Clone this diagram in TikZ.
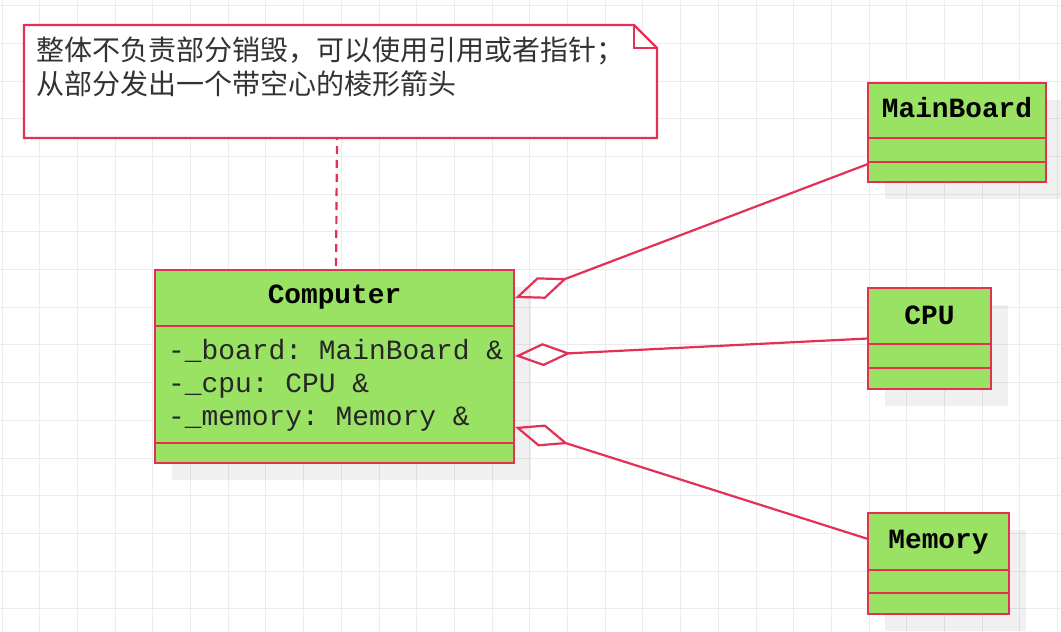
\documentclass[tikz,border=0pt]{standalone}
\usepackage{fontspec}
\setmonofont{Liberation Mono}
\newfontfamily\cjkfont{Noto Sans CJK SC}
\usetikzlibrary{arrows.meta,calc,shadows}

\definecolor{umlred}{RGB}{228,48,84}
\definecolor{umlgreen}{RGB}{154,226,100}
\definecolor{gridgray}{RGB}{236,236,236}

\tikzset{
  gridline/.style={draw=gridgray,line width=1pt},
  classbox/.style={draw=umlred,fill=umlgreen,line width=2.2pt,outer sep=0pt,inner sep=0pt,anchor=north west,
    drop shadow={shadow xshift=17pt,shadow yshift=-17pt,fill=black,opacity=0.06}},
  divider/.style={draw=umlred,line width=2.2pt},
  classname/.style={font=\ttfamily\bfseries\fontsize{27.8}{33}\selectfont,inner sep=0pt,anchor=base},
  attrtext/.style={font=\ttfamily\fontsize{27.9}{33}\selectfont,text=black!85,align=left,inner sep=0pt,anchor=north west},
  notebox/.style={minimum width=633pt,minimum height=113pt,outer sep=0pt,inner sep=0pt,anchor=north west},
  noteline/.style={draw=umlred,fill=white,line width=2.2pt,line join=miter},
  notetext/.style={font=\cjkfont\fontsize{28}{34}\selectfont,text=black!80,align=left,inner sep=0pt,anchor=north west},
  notelink/.style={draw=umlred,line width=2.2pt,dash pattern=on 8pt off 6pt,dash phase=6pt},
  aggregation/.style={draw=umlred,line width=2.2pt,-{Diamond[open,length=56pt,width=23pt]}}
}

\begin{document}
\begin{tikzpicture}[x=1pt,y=-1pt]
  \useasboundingbox[fill=white] (0,0) rectangle (1061,632);
  \foreach \gx in {0,...,28} \draw[gridline] ({2+37.7*\gx},0) -- ({2+37.7*\gx},632);
  \foreach \gy in {0,...,16} \draw[gridline] (0,{5.6+37.7*\gy}) -- (1061,{5.6+37.7*\gy});

  \node[notebox] (note) at (24,25) {};
  \draw[noteline] (note.north west) -- ($(note.north east)+(-23,0)$) -- ($(note.north east)+(0,23)$)
    -- (note.south east) -- (note.south west) -- cycle;
  \draw[noteline,fill=none] ($(note.north east)+(-23,0)$) |- ($(note.north east)+(0,23)$);
  \node[notetext] (notetxt) at (36,37) {整体不负责部分销毁，可以使用引用或者指针；\\从部分发出一个带空心的棱形箭头};

  \node[classbox,minimum width=359pt,minimum height=193pt] (computer) at (155,270) {};
  \draw[divider] ($(computer.north west)+(0,56)$) -- ($(computer.north east)+(0,56)$);
  \draw[divider] ($(computer.north west)+(0,173)$) -- ($(computer.north east)+(0,173)$);
  \node[classname] (computername) at ($(computer.north)+(0,33)$) {Computer};
  \node[attrtext] (computerattr) at ($(computer.north west)+(13,69)$) {-\_board: MainBoard \&\\-\_cpu: CPU \&\\-\_memory: Memory \&};

  \node[classbox,minimum width=178pt,minimum height=99pt] (mainboard) at (868,83) {};
  \draw[divider] ($(mainboard.north west)+(0,55)$) -- ($(mainboard.north east)+(0,55)$);
  \draw[divider] ($(mainboard.north west)+(0,79)$) -- ($(mainboard.north east)+(0,79)$);
  \node[classname] (mainboardname) at ($(mainboard.north)+(0,34)$) {MainBoard};

  \node[classbox,minimum width=123pt,minimum height=101pt] (cpu) at (868,288) {};
  \draw[divider] ($(cpu.north west)+(0,56)$) -- ($(cpu.north east)+(0,56)$);
  \draw[divider] ($(cpu.north west)+(0,80)$) -- ($(cpu.north east)+(0,80)$);
  \node[classname] (cpuname) at ($(cpu.north)+(0,36)$) {CPU};

  \node[classbox,minimum width=141pt,minimum height=101pt] (memory) at (868,513) {};
  \draw[divider] ($(memory.north west)+(0,57)$) -- ($(memory.north east)+(0,57)$);
  \draw[divider] ($(memory.north west)+(0,80)$) -- ($(memory.north east)+(0,80)$);
  \node[classname] (memoryname) at ($(memory.north)+(0,35)$) {Memory};

  \coordinate (boardtip) at ($(computer.north east)+(1,28)$);
  \coordinate (cputip) at ($(computer.north east)+(1,86)$);
  \coordinate (memorytip) at ($(computer.north east)+(1,157)$);
  \coordinate (boardend) at ($(mainboard.north west)+(0,81)$);
  \coordinate (memoryend) at ($(memory.north west)+(0,26)$);

  \draw[notelink] ($(note.south west)+(313,0)$) -- ($(computer.north west)+(181,0)$);
  \draw[aggregation] (boardend) -- (boardtip);
  \draw[aggregation] (cpu.west) -- (cputip);
  \draw[aggregation] (memoryend) -- (memorytip);
\end{tikzpicture}
\end{document}
